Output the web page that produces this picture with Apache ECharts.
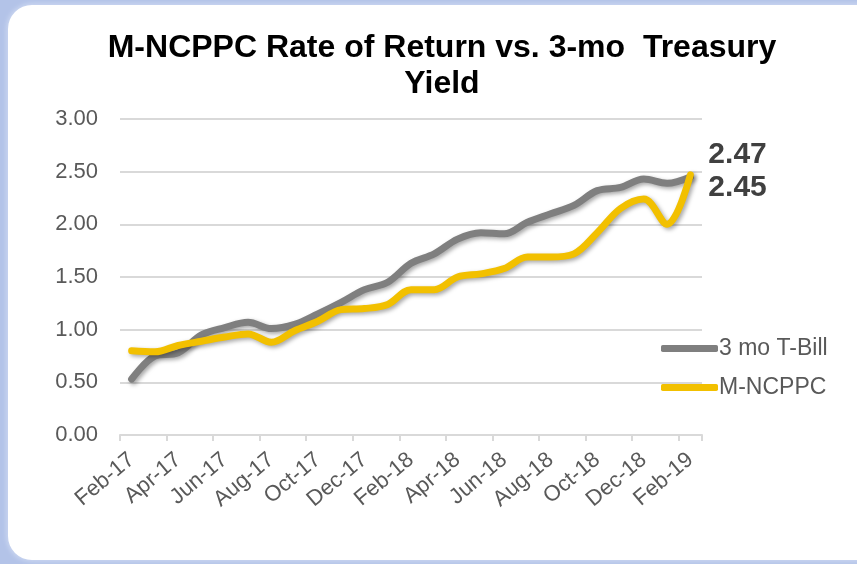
<!DOCTYPE html>
<html>
<head>
<meta charset="utf-8">
<script src="https://cdn.jsdelivr.net/npm/echarts@6/dist/echarts.min.js"></script>
<style>
  html, body { margin: 0; padding: 0; width: 857px; height: 564px; overflow: hidden; background: #b3c3e8; }
  #card { position: absolute; left: 8px; top: 5px; width: 880px; height: 555px; background: #ffffff; border-radius: 24px; box-shadow: 0 0 4px 2px #c9d5f0; }
  #main { position: absolute; left: 0; top: 0; width: 857px; height: 564px; }
</style>
</head>
<body>
<div id="card"></div>
<div id="main"></div>
<script>
var months = ['Feb-17','Mar-17','Apr-17','May-17','Jun-17','Jul-17','Aug-17','Sep-17','Oct-17','Nov-17','Dec-17','Jan-18',
              'Feb-18','Mar-18','Apr-18','May-18','Jun-18','Jul-18','Aug-18','Sep-18','Oct-18','Nov-18','Dec-18','Jan-19','Feb-19'];

var tbill = [0.53, 0.75, 0.78, 0.95, 1.02, 1.07, 1.01, 1.05, 1.15, 1.26, 1.38, 1.45,
             1.63, 1.72, 1.86, 1.92, 1.91, 2.02, 2.10, 2.18, 2.32, 2.35, 2.43, 2.39, 2.45];

var mncppc = [0.80, 0.79, 0.85, 0.89, 0.93, 0.96, 0.88, 0.99, 1.08, 1.19, 1.20, 1.24,
              1.38, 1.38, 1.50, 1.53, 1.58, 1.69, 1.69, 1.72, 1.92, 2.15, 2.24, 2.00, 2.47];

var yTicks = [0, 0.5, 1, 1.5, 2, 2.5, 3];

var myChart = echarts.init(document.getElementById('main'));

// label drawn at the end of each line
function endLabel(offset)
{
    return {
        show: true,
        offset: offset,
        distance: 0,
        formatter: function (p) { return p.value.toFixed(2); },
        fontSize: 30,
        fontWeight: 'bold',
        color: '#404040',
        fontFamily: 'Liberation Sans'
    };
}

var lineShadow = {
    shadowColor: 'rgba(0,0,0,0.35)',
    shadowBlur: 4,
    shadowOffsetX: 2,
    shadowOffsetY: 2
};

option =
{
    animation: false,
    textStyle: { fontFamily: 'Liberation Sans' },
    title:
    {
        text: 'M-NCPPC Rate of Return vs. 3-mo  Treasury\nYield',
        left: 437,
        top: 25,
        textAlign: 'center',
        textStyle:
        {
            fontSize: 32,
            fontWeight: 'bold',
            color: '#000000',
            lineHeight: 36,
            fontFamily: 'Liberation Sans'
        }
    },
    legend:
    {
        orient: 'vertical',
        left: 656,
        top: 332,
        itemWidth: 57,
        itemHeight: 7,
        itemGap: 16,
        icon: 'roundRect',
        textStyle: { fontSize: 23, color: '#595959', padding: [0, 0, 0, -4] },
        data: ['3 mo T-Bill', 'M-NCPPC']
    },
    grid:
    {
        left: 120,
        right: 155,
        top: 119,
        bottom: 129
    },
    xAxis:
    {
        type: 'category',
        data: months,
        boundaryGap: true,
        axisLine: { lineStyle: { color: '#d9d9d9', width: 2 } },
        axisTick: { show: true, interval: 1, length: 6, lineStyle: { color: '#d9d9d9', width: 2 } },
        axisLabel:
        {
            interval: 1,
            rotate: 40,
            fontSize: 22,
            color: '#595959',
            margin: 22
        }
    },
    yAxis:
    {
        type: 'value',
        min: yTicks[0],
        max: yTicks[yTicks.length - 1],
        interval: 0.5,
        axisLine: { show: false },
        axisTick: { show: false },
        splitLine: { lineStyle: { color: '#d9d9d9', width: 2 } },
        axisLabel:
        {
            fontSize: 22,
            color: '#595959',
            margin: 22,
            formatter: function (v) { return v.toFixed(2); }
        }
    },
    series:
    [
        {
            name: '3 mo T-Bill',
            type: 'line',
            smooth: 0.35,
            showSymbol: false,
            symbol: 'none',
            color: '#7f7f7f',
            lineStyle: Object.assign({ width: 7, color: '#7f7f7f', cap: 'round' }, lineShadow),
            endLabel: endLabel([18, 11]),
            data: tbill,
            z: 2
        },
        {
            name: 'M-NCPPC',
            type: 'line',
            smooth: 0.35,
            showSymbol: false,
            symbol: 'none',
            color: '#f2c000',
            lineStyle: Object.assign({ width: 7, color: '#f2c000', cap: 'round' }, lineShadow),
            endLabel: endLabel([18, -20]),
            data: mncppc,
            z: 3
        }
    ]
};

myChart.setOption(option);
</script>
</body>
</html>
